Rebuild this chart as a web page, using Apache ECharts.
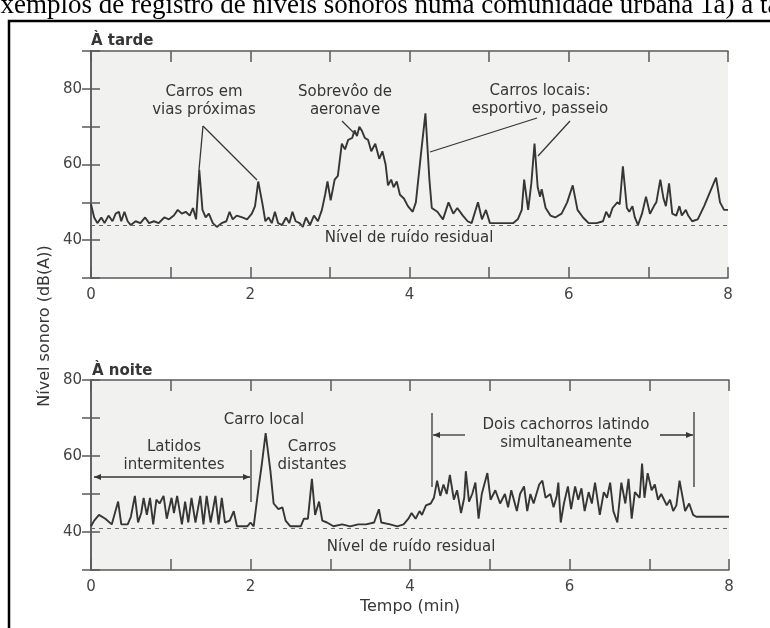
<!DOCTYPE html>
<html>
<head>
<meta charset="utf-8">
<script src="https://cdn.jsdelivr.net/npm/echarts@6/dist/echarts.min.js"></script>
<style>
  html, body { margin: 0; padding: 0; background: #fff; }
  #chart { width: 770px; height: 628px; }
</style>
</head>
<body>
<div id="chart"></div>
<script>
// tempo (min) e nível sonoro dB(A) - à tarde
var tardeT = [0.00, 0.04, 0.08, 0.13, 0.17, 0.22, 0.27, 0.31, 0.35, 0.38, 0.42, 0.46, 0.50, 0.56, 0.62, 0.68, 0.73, 0.79, 0.85, 0.92,
  0.98, 1.04, 1.09, 1.14, 1.19, 1.24, 1.28, 1.32, 1.36, 1.40, 1.44, 1.48, 1.53, 1.58, 1.64, 1.70, 1.74, 1.78, 1.83, 1.90,
  1.96, 2.02, 2.06, 2.10, 2.15, 2.19, 2.23, 2.27, 2.31, 2.35, 2.40, 2.45, 2.49, 2.53, 2.57, 2.62, 2.66, 2.70, 2.75, 2.80,
  2.85, 2.90, 2.94, 2.97, 3.01, 3.06, 3.10, 3.15, 3.19, 3.23, 3.28, 3.31, 3.34, 3.37, 3.40, 3.44, 3.48, 3.52, 3.57, 3.62,
  3.66, 3.70, 3.73, 3.77, 3.80, 3.84, 3.88, 3.93, 3.98, 4.04, 4.08, 4.15, 4.20, 4.25, 4.28, 4.35, 4.42, 4.49, 4.55, 4.60,
  4.67, 4.73, 4.78, 4.86, 4.91, 4.96, 5.01, 5.10, 5.20, 5.30, 5.36, 5.41, 5.44, 5.49, 5.53, 5.57, 5.61, 5.64, 5.66, 5.71,
  5.77, 5.83, 5.91, 5.98, 6.05, 6.11, 6.18, 6.25, 6.35, 6.43, 6.47, 6.51, 6.55, 6.61, 6.64, 6.68, 6.73, 6.76, 6.80, 6.83,
  6.87, 6.92, 6.97, 7.02, 7.07, 7.10, 7.15, 7.19, 7.22, 7.26, 7.30, 7.35, 7.39, 7.42, 7.47, 7.50, 7.55, 7.62, 7.70, 7.78,
  7.85, 7.90, 7.95, 8.00];
var tardeDb = [49.5, 46, 44.5, 46, 44.5, 46.5, 45, 47, 47.5, 45, 47.5, 45, 44, 45, 44.5, 46, 44.5, 45, 44.5, 46,
  45.5, 46.5, 48, 47, 47.5, 46.5, 48.5, 45.5, 58.5, 48, 46, 47, 44.5, 43.5, 44.5, 45, 47.5, 45.5, 46.5, 46,
  45.5, 47, 49, 55.5, 50, 45, 46, 44.5, 47.5, 44.5, 44, 46, 44.5, 47.5, 45, 44.5, 43.5, 46, 44, 46.5,
  45, 48, 52, 55.5, 50.5, 56, 57, 65.5, 64, 66.5, 67, 69, 67.5, 70, 69, 67, 66.5, 63.5, 65.5, 61.5,
  63.5, 60, 54.5, 56, 54, 55.5, 52, 51, 49, 47.5, 50, 64, 73.5, 56, 48.5, 47.5, 45.5, 50, 47, 48.5,
  46.5, 45, 44.5, 50, 45.5, 48, 44.5, 44.5, 44.5, 44.5, 45.5, 48, 56, 48, 55, 65.5, 54, 51.5, 53.5, 48.5,
  46.5, 46, 47, 50, 54.5, 48, 46, 44.5, 44.5, 45, 47.5, 46, 48.5, 50, 49.5, 59.5, 48.5, 47.5, 49, 46,
  44, 47, 51.5, 47, 49, 50, 56, 51, 49, 55, 47, 46.5, 49, 46.5, 48, 46.5, 45, 45.5, 49, 53,
  56.5, 50, 48, 48];

// tempo (min) e nível sonoro dB(A) - à noite
var noiteT = [0.00, 0.04, 0.10, 0.18, 0.26, 0.34, 0.38, 0.46, 0.50, 0.55, 0.59, 0.63, 0.66, 0.70, 0.74, 0.78, 0.82, 0.86, 0.91, 0.95,
  1.01, 1.04, 1.08, 1.14, 1.18, 1.22, 1.26, 1.31, 1.37, 1.41, 1.45, 1.50, 1.56, 1.60, 1.64, 1.68, 1.74, 1.79, 1.83, 1.96,
  2.00, 2.04, 2.10, 2.14, 2.19, 2.25, 2.29, 2.35, 2.40, 2.44, 2.50, 2.63, 2.67, 2.72, 2.77, 2.81, 2.86, 2.90, 2.96, 3.04,
  3.15, 3.25, 3.35, 3.45, 3.55, 3.61, 3.64, 3.75, 3.84, 3.92, 3.98, 4.02, 4.07, 4.12, 4.15, 4.20, 4.26, 4.30, 4.34, 4.38,
  4.42, 4.46, 4.50, 4.55, 4.59, 4.64, 4.68, 4.70, 4.74, 4.78, 4.82, 4.86, 4.90, 4.97, 5.01, 5.07, 5.13, 5.19, 5.23, 5.27,
  5.34, 5.38, 5.43, 5.47, 5.51, 5.55, 5.62, 5.66, 5.70, 5.76, 5.80, 5.84, 5.86, 5.89, 5.93, 5.98, 6.02, 6.07, 6.11, 6.15,
  6.19, 6.24, 6.28, 6.32, 6.38, 6.43, 6.47, 6.51, 6.55, 6.60, 6.65, 6.70, 6.74, 6.78, 6.82, 6.88, 6.91, 6.94, 6.98, 7.03,
  7.07, 7.11, 7.15, 7.22, 7.26, 7.30, 7.34, 7.38, 7.45, 7.50, 7.55, 7.59, 7.65, 7.80, 7.90, 8.00];
var noiteDb = [41.5, 43, 44.5, 43.5, 42, 48, 42, 42, 44, 49.5, 42.5, 45, 49, 44.5, 49, 42, 48.5, 47.5, 49.5, 43.5,
  49, 45, 49.5, 42, 48, 42.5, 49, 42.5, 49.5, 42, 49.5, 42.5, 49.5, 42, 49, 42.5, 43, 45.5, 41.5, 41.5,
  42.5, 41.5, 51.5, 57.5, 66, 56, 47.5, 46, 46.5, 43, 41.5, 41.5, 43.5, 43.5, 54, 44.5, 48, 43, 42.5, 41.5,
  42, 41.5, 42, 42, 42.5, 46, 42.5, 42, 41.5, 42, 43.5, 45, 43.5, 45.5, 44.5, 47, 47.5, 49, 53.5, 49.5,
  52.5, 50, 55, 48.5, 51, 45, 49, 56, 48, 50, 53, 43.5, 50, 55.5, 48.5, 51, 47.5, 50, 46.5, 51,
  45.5, 50, 52, 45.5, 50, 47.5, 52.5, 53.5, 49, 50, 46.5, 49.5, 53, 42.5, 47.5, 52, 46, 52, 48.5, 51.5,
  45.5, 50.5, 47.5, 53, 44.5, 50.5, 49, 53, 45.5, 42.5, 53, 47.5, 54, 43.5, 50.5, 49, 58, 49, 55.5, 51,
  52.5, 48.5, 50, 47, 48.5, 45.5, 47, 53.5, 45.5, 47.5, 44.5, 44, 44, 44, 44, 44];

var xLabels = [0, 2, 4, 6, 8];
var yLabels = [40, 60, 80];
var residualTarde = 44;
var residualNoite = 41;

var ink = '#363636';
var axisInk = '#5a5a5a';
var font = 'DejaVu Sans';

function pairs(t, v) {
  return t.map(function (x, i) { return [x, v[i]]; });
}

function xAxisCfg(grid, pos) {
  var bottom = pos === 'bottom';
  return {
    type: 'value', gridIndex: grid, position: pos, min: 0, max: 8, interval: 1,
    axisLine: { show: true, lineStyle: { color: axisInk, width: 1.5 } },
    axisTick: { show: true, inside: true, length: 11, lineStyle: { color: axisInk, width: 1.5 } },
    axisLabel: {
      show: bottom, margin: 10, fontSize: 15, fontFamily: font, color: '#444',
      formatter: function (v) { return xLabels.indexOf(v) >= 0 ? String(v) : ''; }
    },
    splitLine: { show: false }
  };
}

function yAxisCfg(grid, pos, max) {
  var left = pos === 'left';
  return {
    type: 'value', gridIndex: grid, position: pos, min: 30, max: max, interval: 10,
    axisLine: { show: true, lineStyle: { color: axisInk, width: 1.5 } },
    axisTick: { show: true, inside: true, length: 9, lineStyle: { color: axisInk, width: 1.5 } },
    axisLabel: {
      show: left, margin: 9, fontSize: 15, fontFamily: font, color: '#444',
      formatter: function (v) { return yLabels.indexOf(v) >= 0 ? String(v) : ''; }
    },
    splitLine: { show: false }
  };
}

function seriesCfg(idx, data, residual) {
  return {
    type: 'line', xAxisIndex: idx * 2, yAxisIndex: idx * 2, data: data,
    showSymbol: false, smooth: false, animation: false,
    lineStyle: { color: ink, width: 1.9 },
    markLine: {
      silent: true, symbol: 'none', label: { show: false },
      lineStyle: { color: '#666', type: [4, 4], width: 1 },
      data: [{ yAxis: residual }]
    }
  };
}

function txt(x, y, s, opt) {
  opt = opt || {};
  var size = opt.size || 15;
  return {
    type: 'text', x: x, y: y, z: 100, rotation: opt.rot || 0,
    style: {
      text: s, fill: opt.color || ink, font: (opt.weight || 'normal') + ' ' + size + 'px ' + (opt.family || font),
      align: opt.align || 'center', verticalAlign: opt.va || 'middle', lineHeight: opt.lh || 18
    }
  };
}

function seg(x1, y1, x2, y2, w) {
  return { type: 'line', z: 100, shape: { x1: x1, y1: y1, x2: x2, y2: y2 }, style: { stroke: ink, lineWidth: w || 1.3 } };
}

// ponta de seta em (x, y) apontando para a direção dir (+1 direita, -1 esquerda)
function head(x, y, dir) {
  return { type: 'polygon', z: 100, shape: { points: [[x, y], [x - dir * 7, y - 3], [x - dir * 7, y + 3]] }, style: { fill: ink } };
}

var chart = echarts.init(document.getElementById('chart'), null, { renderer: 'canvas' });

var option = {
  backgroundColor: '#fff',
  animation: false,
  grid: [
    { left: 91, top: 51, width: 637, height: 227, show: true, backgroundColor: '#f1f1ef', borderWidth: 0 },
    { left: 91, top: 380, width: 638, height: 190, show: true, backgroundColor: '#f1f1ef', borderWidth: 0 }
  ],
  xAxis: [xAxisCfg(0, 'bottom'), xAxisCfg(0, 'top'), xAxisCfg(1, 'bottom'), xAxisCfg(1, 'top')],
  yAxis: [yAxisCfg(0, 'left', 90), yAxisCfg(0, 'right', 90), yAxisCfg(1, 'left', 80), yAxisCfg(1, 'right', 80)],
  series: [
    seriesCfg(0, pairs(tardeT, tardeDb), residualTarde),
    seriesCfg(1, pairs(noiteT, noiteDb), residualNoite)
  ],
  graphic: [
    txt(-16, 6, 'Exemplos de registro de níveis sonoros numa comunidade urbana 1a) à tarde e 1b) à noite',
      { family: 'Liberation Serif', size: 27, lh: 27, color: '#000', align: 'left' }),
    { type: 'polyline', z: 100, shape: { points: [[9, 628], [9, 21], [770, 21]] }, style: { stroke: '#000', lineWidth: 2.5, fill: null } },

    txt(91, 41, 'À tarde', { weight: 'bold', align: 'left' }),
    txt(92, 371, 'À noite', { weight: 'bold', align: 'left' }),
    txt(45, 326, 'Nível sonoro (dB(A))', { rot: Math.PI / 2, size: 16 }),
    txt(410, 607, 'Tempo (min)', { size: 16 }),

    // à tarde
    txt(204, 101, 'Carros em\nvias próximas'),
    seg(203, 126, 199, 170), seg(203, 126, 257, 180),
    txt(345, 101, 'Sobrevôo de\naeronave'),
    seg(342, 121, 355, 134),
    txt(540, 100, 'Carros locais:\nesportivo, passeio'),
    seg(537, 118, 430, 152), seg(570, 121, 538, 156),
    txt(409, 238, 'Nível de ruído residual'),

    // à noite
    txt(264, 420, 'Carro local'),
    txt(174, 456, 'Latidos\nintermitentes'),
    seg(94, 477, 250, 477), head(94, 477, -1), head(250, 477, 1),
    seg(251, 450, 251, 502),
    txt(312, 456, 'Carros\ndistantes'),
    txt(566, 434, 'Dois cachorros latindo\nsimultaneamente'),
    seg(433, 435, 465, 435), head(433, 435, -1),
    seg(660, 435, 693, 435), head(693, 435, 1),
    seg(432, 413, 432, 487), seg(694, 412, 694, 487),
    txt(411, 547, 'Nível de ruído residual')
  ]
};

chart.setOption(option);
window.addEventListener('resize', chart.resize);
</script>
</body>
</html>
